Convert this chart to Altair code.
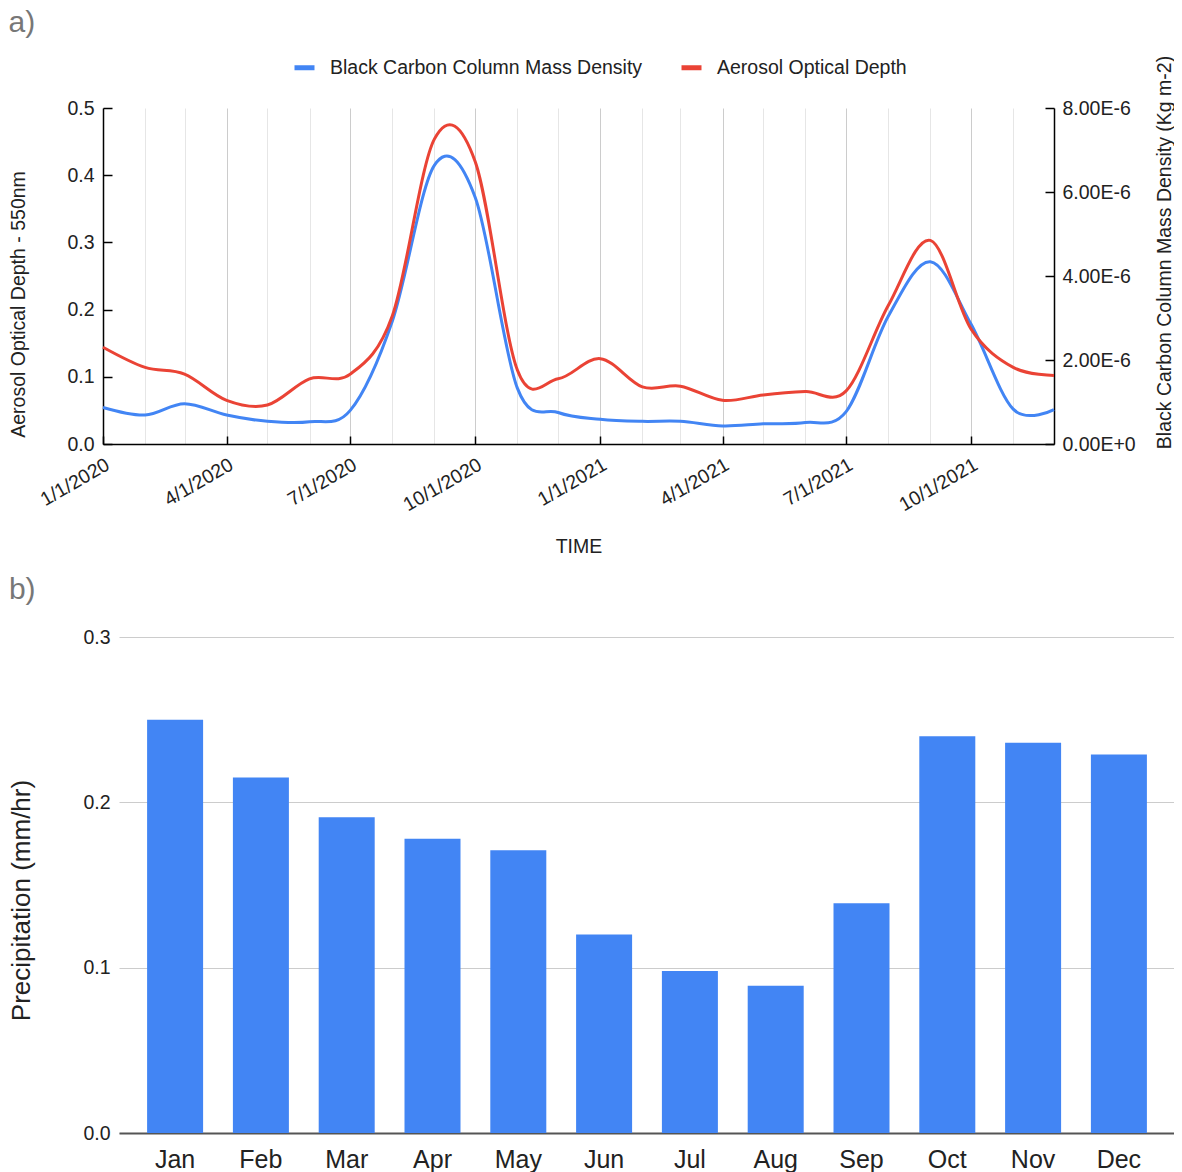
import altair as alt
import pandas as pd

FONT = "Liberation Sans"
BLUE = "#4285F4"
RED = "#EA4335"
TXT = "#222222"

BC_NAME = "Black Carbon Column Mass Density"
AOD_NAME = "Aerosol Optical Depth"

# ---- panel a data (monthly) ----
dates = [
    "2020-01-01", "2020-02-01", "2020-03-01", "2020-04-01", "2020-05-01", "2020-06-01",
    "2020-07-01", "2020-08-01", "2020-09-01", "2020-10-01", "2020-11-01", "2020-12-01",
    "2021-01-01", "2021-02-01", "2021-03-01", "2021-04-01", "2021-05-01", "2021-06-01",
    "2021-07-01", "2021-08-01", "2021-09-01", "2021-10-01", "2021-11-01", "2021-12-01",
]
aod = [
    0.144, 0.114, 0.104, 0.065, 0.058, 0.097, 0.104, 0.191, 0.454, 0.420, 0.110, 0.097,
    0.127, 0.085, 0.086, 0.065, 0.073, 0.078, 0.079, 0.206, 0.303, 0.171, 0.114, 0.102,
]
bc = [
    8.7e-7, 6.9e-7, 9.6e-7, 6.9e-7, 5.4e-7, 5.3e-7, 8.0e-7, 2.93e-6, 6.64e-6, 5.87e-6, 1.33e-6, 7.5e-7,
    5.9e-7, 5.4e-7, 5.4e-7, 4.3e-7, 4.8e-7, 5.1e-7, 7.7e-7, 3.04e-6, 4.34e-6, 2.85e-6, 8.3e-7, 8.2e-7,
]
aod_ticks = [0.0, 0.1, 0.2, 0.3, 0.4, 0.5]
bc_ticks = [0.0, 2e-6, 4e-6, 6e-6, 8e-6]

# ---- panel b data ----
months = ["Jan", "Feb", "Mar", "Apr", "May", "Jun", "Jul", "Aug", "Sep", "Oct", "Nov", "Dec"]
precip = [0.250, 0.215, 0.191, 0.178, 0.171, 0.120, 0.098, 0.089, 0.139, 0.240, 0.236, 0.229]
precip_ticks = [0.0, 0.1, 0.2, 0.3]

line_df = pd.DataFrame({"date": dates, "aod": aod, "bc": bc})
bar_df = pd.DataFrame({"month": months, "precip": precip})

color_scale = alt.Scale(domain=[BC_NAME, AOD_NAME], range=[BLUE, RED])
legend = alt.Legend(
    title=None, orient="none", legendX=189, legendY=-53, direction="horizontal",
    symbolType="stroke", symbolSize=400, symbolStrokeWidth=5,
    labelFontSize=19.5, labelFont=FONT, labelColor=TXT, labelOffset=13, labelLimit=0,
    columnPadding=28, padding=0,
)

x_enc = alt.X(
    "date:T",
    scale=alt.Scale(type="utc", nice=False),
    axis=alt.Axis(
        title="TIME", titleFontSize=19.5, titleFontWeight="normal", titlePadding=23,
        tickCount=alt.TimeIntervalStep(interval="month", step=1),
        labelExpr="utcmonth(datum.value) % 3 == 0 ? utcFormat(datum.value, '%-m/%-d/%Y') : ''",
        labelAngle=330, labelAlign="right", labelBaseline="top", labelPadding=19,
        labelFontSize=19.5, labelOverlap=False, labelFlush=False,
        gridColor=alt.condition("utcmonth(datum.value) % 3 == 0", alt.value("#cccccc"), alt.value("#e6e6e6")),
        tickColor=alt.condition("utcmonth(datum.value) % 3 == 0", alt.value("#000000"), alt.value("transparent")),
        tickSize={"expr": "-8"}, tickWidth=1.5,
        domainColor="#000000", domainWidth=1.5,
    ),
)

blue = alt.Chart(line_df).transform_calculate(
    series=f"'{BC_NAME}'"
).mark_line(strokeWidth=3, interpolate="cardinal").encode(
    x=x_enc,
    y=alt.Y(
        "bc:Q",
        scale=alt.Scale(domain=[0, 8e-6], nice=False, zero=True),
        axis=alt.Axis(
            orient="right", values=bc_ticks, grid=False,
            labelExpr="upper(format(datum.value, '.2e'))",
            labelFontSize=19.5, labelPadding=17, labelFlush=False,
            tickSize={"expr": "-9"}, tickColor="#000000", tickWidth=1.5,
            domainColor="#000000", domainWidth=1.5,
            title="Black Carbon Column Mass Density (Kg m-2)", titleAngle=270,
            titleBaseline="top", titleY=144,
            titleFontSize=19.5, titleFontWeight="normal", titlePadding=20,
        ),
    ),
    color=alt.Color("series:N", scale=color_scale, legend=legend),
)

red = alt.Chart(line_df).transform_calculate(
    series=f"'{AOD_NAME}'"
).mark_line(strokeWidth=3, interpolate="cardinal").encode(
    x=x_enc,
    y=alt.Y(
        "aod:Q",
        scale=alt.Scale(domain=[0, 0.5], nice=False, zero=True),
        axis=alt.Axis(
            orient="left", values=aod_ticks, format=".1f",
            labelFontSize=19.5, labelPadding=18, labelFlush=False,
            tickSize={"expr": "-9"}, tickColor="#000000", tickWidth=1.5,
            domainColor="#000000", domainWidth=1.5, gridColor="#cccccc",
            title="Aerosol Optical Depth - 550nm", titleY=196,
            titleFontSize=19.5, titleFontWeight="normal", titlePadding=38.3,
        ),
    ),
    color=alt.Color("series:N", scale=color_scale, legend=legend),
)

panel_a = alt.layer(blue, red).resolve_scale(y="independent").properties(
    width=951, height=336,
    title=alt.TitleParams("a)", anchor="start", frame="bounds", fontSize=30,
                          fontWeight="normal", color="#777777", font=FONT, offset=17),
)

panel_b = alt.Chart(bar_df).mark_bar(color=BLUE).encode(
    x=alt.X(
        "month:N", sort=months,
        scale=alt.Scale(range=[16, 1072], paddingInner=0.3473, paddingOuter=0.3275),
        axis=alt.Axis(
            title=None, labelAngle=0, labelFontSize=25, labelPadding=14,
            ticks=False, domainColor="#555555", domainWidth=2,
        ),
    ),
    y=alt.Y(
        "precip:Q",
        scale=alt.Scale(domain=[0, 0.3], nice=False),
        axis=alt.Axis(
            values=precip_ticks, format=".1f", domain=False, ticks=False,
            gridColor="#cccccc", labelFontSize=19.5, labelPadding=9, labelFlush=False,
            offset=-16,
            title="Precipitation (mm/hr)", titleFontSize=26, titleFontWeight="normal",
            titlePadding=48, titleY=263,
        ),
    ),
).properties(
    width=1056, height=496,
    title=alt.TitleParams("b)", anchor="start", frame="bounds", fontSize=30,
                          fontWeight="normal", color="#777777", font=FONT, offset=22),
)

chart = alt.vconcat(panel_a, panel_b, spacing=19).properties(
    padding={"left": 0, "top": 0, "right": 0, "bottom": 0}
).configure(font=FONT).configure_view(stroke=None).configure_axis(
    labelColor=TXT, titleColor=TXT, labelFont=FONT, titleFont=FONT,
)

chart.save("out.html", embed_options={"renderer": "svg", "actions": False})
